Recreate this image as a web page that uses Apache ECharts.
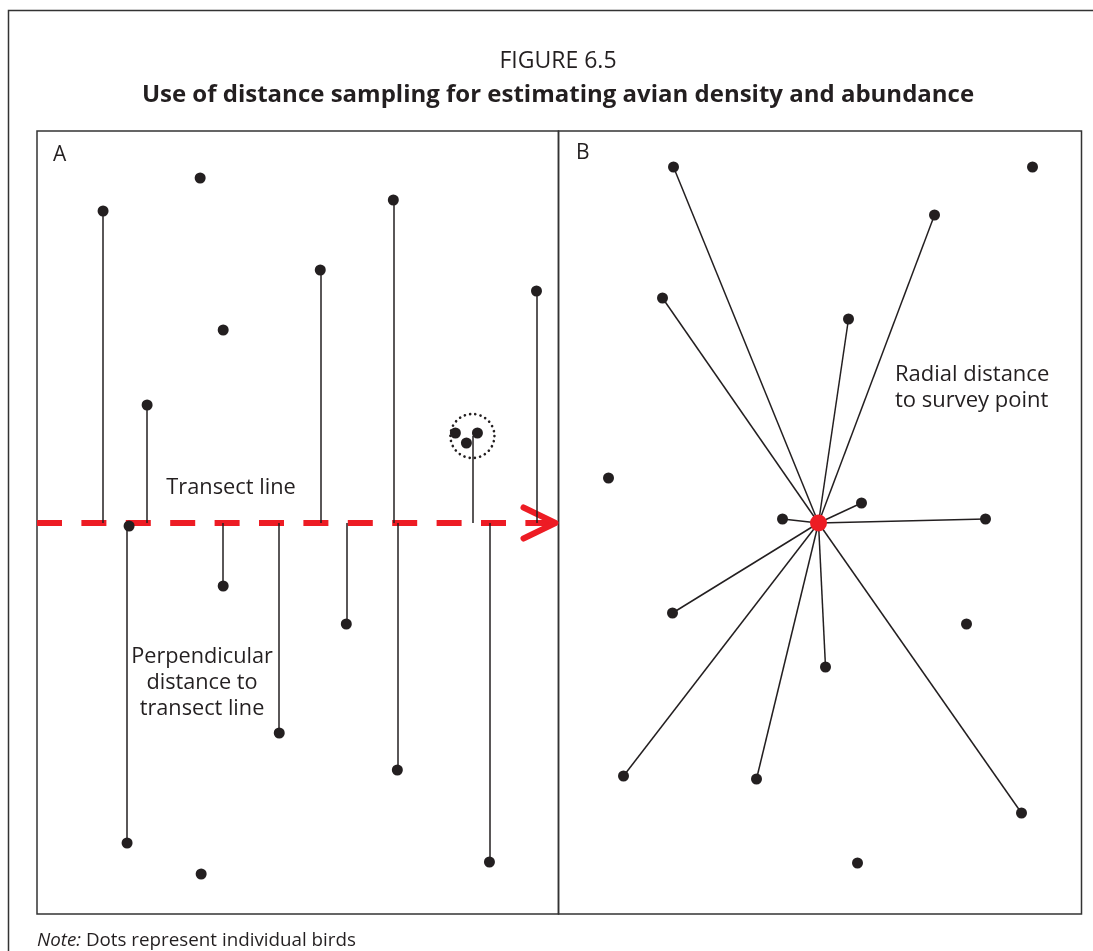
<!DOCTYPE html>
<html>
<head>
<meta charset="utf-8">
<script src="https://cdn.jsdelivr.net/npm/echarts@6/dist/echarts.min.js"></script>
<style>
  html, body { margin: 0; padding: 0; background: #fff; }
  #chart { width: 1093px; height: 951px; }
</style>
</head>
<body>
<div id="chart"></div>
<script>
// ---------- DATA ----------
// Panel A: x = position along transect, y = perpendicular offset (transect at y = 0)
const transectLength = 521;
const lineBirdsA = [[66, 312], [110, 118], [283, 253], [356, 323], [499, 232],
                    [186, -63], [242, -210], [309, -101], [360, -247], [452, -339], [90, -320]];
const freeBirdsA = [[163, 345], [186, 193], [92, -3], [164, -351]];
const clusterBirdsA = [[418, 90], [440, 90], [429, 80]];
const clusterA = [[435, 87, 22]]; // centre x, centre y, radius
// Panel B: x, y relative to survey point at (0, 0)
const surveyPoint = [[0, 0]];
const lineBirdsB = [[-145, 356], [-156, 225], [-36, 4], [116, 308], [30, 204], [43, 20],
                    [167, 4], [-146, -90], [7, -144], [-195, -253], [-62, -256], [203, -290]];
const freeBirdsB = [[-210, 45], [214, 356], [148, -101], [39, -340]];

const figureLabel = 'FIGURE 6.5';
const figureTitle = 'Use of distance sampling for estimating avian density and abundance';
const noteLabel = 'Note:';
const noteText = 'Dots represent individual birds';

// ---------- STYLE ----------
const INK = '#231f20';
const RED = '#ed1c24';
const FONT = '"Open Sans", "Noto Sans", sans-serif';

const chart = echarts.init(document.getElementById('chart'), null, { renderer: 'canvas' });

const option = {
  animation: false,
  backgroundColor: '#fff',
  grid: [
    { left: 37, top: 131, width: 521.5, height: 783, show: true, borderColor: '#333', borderWidth: 1.5, backgroundColor: 'transparent' },
    { left: 558.5, top: 131, width: 523, height: 783, show: true, borderColor: '#333', borderWidth: 1.5, backgroundColor: 'transparent' }
  ],
  xAxis: [
    { gridIndex: 0, type: 'value', min: 0, max: 521, show: false },
    { gridIndex: 1, type: 'value', min: -260, max: 263, show: false }
  ],
  yAxis: [
    { gridIndex: 0, type: 'value', min: -391, max: 392, show: false },
    { gridIndex: 1, type: 'value', min: -391, max: 392, show: false }
  ],
  graphic: [
    { type: 'rect', shape: { x: 8.5, y: 10.5, width: 1200, height: 1000 },
      style: { fill: 'none', stroke: '#333', lineWidth: 1.5 }, silent: true },
    { type: 'text', style: { text: figureLabel, x: 558, y: 61, textAlign: 'center', textVerticalAlign: 'middle',
        font: '23px ' + FONT, fill: INK } },
    { type: 'text', style: { text: figureTitle, x: 558, y: 95, textAlign: 'center', textVerticalAlign: 'middle',
        font: 'bold 24px ' + FONT, fill: INK } },
    { type: 'text', style: { text: 'A', x: 53, y: 155, textAlign: 'left', textVerticalAlign: 'middle',
        font: '21px ' + FONT, fill: INK } },
    { type: 'text', style: { text: 'B', x: 576, y: 153, textAlign: 'left', textVerticalAlign: 'middle',
        font: '21px ' + FONT, fill: INK } },
    { type: 'text', style: { text: 'Transect line', x: 231, y: 488, textAlign: 'center', textVerticalAlign: 'middle',
        font: '21.8px ' + FONT, fill: INK } },
    { type: 'text', style: { text: 'Perpendicular\ndistance to\ntransect line', x: 202, y: 683, textAlign: 'center',
        textVerticalAlign: 'middle', font: '21.7px ' + FONT, lineHeight: 26, fill: INK } },
    { type: 'text', style: { text: 'Radial distance\nto survey point', x: 895, y: 388, textAlign: 'left',
        textVerticalAlign: 'middle', font: '22px ' + FONT, lineHeight: 26, fill: INK } },
    { type: 'text', style: { text: '{i|' + noteLabel + '} ' + noteText, x: 37, y: 941, textAlign: 'left',
        textVerticalAlign: 'middle', font: '18.8px ' + FONT, fill: INK,
        rich: { i: { fontStyle: 'italic', fontSize: 18.8, fontFamily: FONT, fill: INK } } } }
  ],
  series: [
    // transect line (dashed red)
    { type: 'line', xAxisIndex: 0, yAxisIndex: 0, data: [[0, 0], [transectLength, 0]], symbol: 'none', z: 2,
      lineStyle: { color: RED, width: 6, type: [25, 19.4], cap: 'butt' } },
    // arrow head
    { type: 'custom', xAxisIndex: 0, yAxisIndex: 0, z: 3, data: [[transectLength, 0]],
      renderItem: function (params, api) {
        const p = api.coord([api.value(0), api.value(1)]);
        const tx = p[0] - 3;
        return { type: 'polyline', shape: { points: [[tx - 32, p[1] - 15.5], [tx, p[1]], [tx - 32, p[1] + 15.5]] },
          style: { fill: 'none', stroke: RED, lineWidth: 6, lineCap: 'round', lineJoin: 'round' } };
      } },
    // perpendicular distances (A)
    { type: 'lines', coordinateSystem: 'cartesian2d', xAxisIndex: 0, yAxisIndex: 0, z: 4,
      data: lineBirdsA.concat(clusterA.map(c => [c[0], c[1]])).map(p => ({ coords: [[p[0], 0], [p[0], p[1]]] })),
      lineStyle: { color: INK, width: 1.5, opacity: 1, curveness: 0 } },
    // dotted circle round cluster
    { type: 'custom', xAxisIndex: 0, yAxisIndex: 0, z: 5, data: clusterA,
      renderItem: function (params, api) {
        const c = api.coord([api.value(0), api.value(1)]);
        const r = api.size([api.value(2), 0])[0];
        return { type: 'circle', shape: { cx: c[0], cy: c[1], r: r },
          style: { fill: 'none', stroke: INK, lineWidth: 2.6, lineDash: [0.1, 5.2], lineCap: 'round' } };
      } },
    // birds A
    { type: 'scatter', xAxisIndex: 0, yAxisIndex: 0, z: 6, symbolSize: 11, itemStyle: { color: INK, opacity: 1 },
      data: lineBirdsA.concat(freeBirdsA, clusterBirdsA) },
    // radial distances (B)
    { type: 'lines', coordinateSystem: 'cartesian2d', xAxisIndex: 1, yAxisIndex: 1, z: 4,
      data: lineBirdsB.map(p => ({ coords: [surveyPoint[0], p] })),
      lineStyle: { color: INK, width: 1.5, opacity: 1, curveness: 0 } },
    // birds B
    { type: 'scatter', xAxisIndex: 1, yAxisIndex: 1, z: 6, symbolSize: 11, itemStyle: { color: INK, opacity: 1 },
      data: lineBirdsB.concat(freeBirdsB) },
    // survey point
    { type: 'scatter', xAxisIndex: 1, yAxisIndex: 1, z: 7, symbolSize: 17, itemStyle: { color: RED, opacity: 1 },
      data: surveyPoint }
  ]
};
chart.setOption(option);
</script>
</body>
</html>
